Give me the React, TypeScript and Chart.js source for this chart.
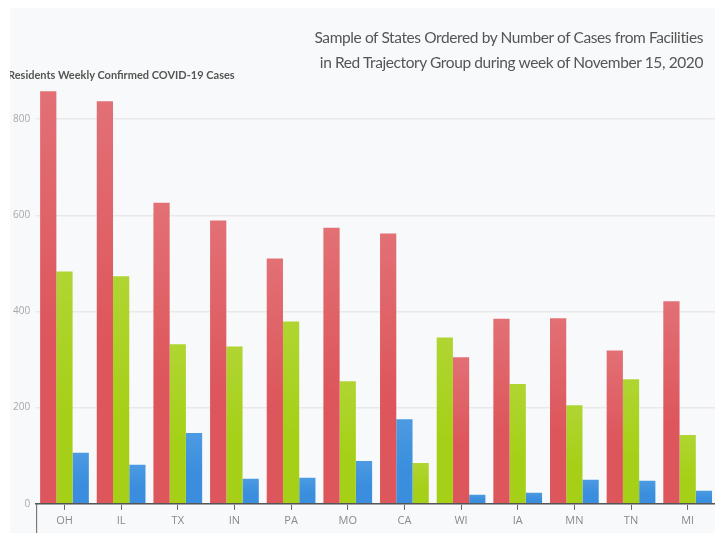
import React, { useEffect, useRef } from "react";
import { Chart, registerables } from "chart.js";

Chart.register(...registerables);

// States on the x axis
const states = ["OH", "IL", "TX", "IN", "PA", "MO", "CA", "WI", "IA", "MN", "TN", "MI"];

// Weekly confirmed cases per state, one array per coloured series
const redValues = [858, 837, 626, 589, 510, 574, 562, 305, 385, 386, 319, 421];
const greenValues = [483, 473, 332, 327, 379, 255, 85, 346, 249, 205, 259, 143];
const blueValues = [106, 81, 147, 52, 54, 89, 176, 19, 23, 50, 48, 27];

const yTicks = [0, 200, 400, 600, 800];
const yMax = 900;

const titleLines = [
  "Sample of States Ordered by Number of Cases from Facilities",
  "in Red Trajectory Group during week of November 15, 2020",
];
const axisTitle = "Residents Weekly Confirmed COVID-19 Cases";

// base (bottom) and light (top) shade of each series
const series = [
  { values: redValues, base: "#dd565b", light: "#e27075" },
  { values: greenValues, base: "#a6d018", light: "#b0d532" },
  { values: blueValues, base: "#3a8edd", light: "#4c9ae2" },
];

// Within every state the bars are ordered from largest to smallest,
// so build one dataset per rank and colour each bar by its series.
function buildDatasets() {
  return [0, 1, 2].map((rank) => {
    const data: number[] = [];
    const shades: { base: string; light: string }[] = [];
    states.forEach((_, i) => {
      const sorted = series
        .map((s) => ({ v: s.values[i], base: s.base, light: s.light }))
        .sort((a, b) => b.v - a.v);
      data.push(sorted[rank].v);
      shades.push({ base: sorted[rank].base, light: sorted[rank].light });
    });
    return {
      label: `rank ${rank + 1}`,
      data,
      backgroundColor: (ctx: any) => {
        const shade = shades[ctx.dataIndex];
        const chart = ctx.chart;
        const yScale = chart.scales && chart.scales.y;
        if (!yScale || ctx.raw === undefined) return shade.base;
        const top = yScale.getPixelForValue(ctx.raw);
        const bottom = yScale.getPixelForValue(0);
        if (!isFinite(top) || !isFinite(bottom) || bottom - top < 1) return shade.base;
        const g = chart.ctx.createLinearGradient(0, top, 0, bottom);
        g.addColorStop(0, shade.light);
        g.addColorStop(0.6, shade.base);
        g.addColorStop(1, shade.base);
        return g;
      },
      borderWidth: 0,
      barPercentage: 1,
      categoryPercentage: 0.86,
    };
  });
}

// Short axis line that continues below the x axis at its left end
const leftEdgeLine = {
  id: "leftEdgeLine",
  afterDraw(chart: any) {
    const { ctx, chartArea } = chart;
    ctx.save();
    ctx.strokeStyle = "#666";
    ctx.lineWidth = 1;
    ctx.beginPath();
    ctx.moveTo(chartArea.left + 0.5, chartArea.bottom);
    ctx.lineTo(chartArea.left + 0.5, chart.height);
    ctx.stroke();
    ctx.restore();
  },
};

export default function App() {
  const canvasRef = useRef<HTMLCanvasElement | null>(null);

  useEffect(() => {
    document.body.style.margin = "0";
    const canvas = canvasRef.current;
    if (!canvas) return;
    const chart = new Chart(canvas, {
      type: "bar",
      data: { labels: states, datasets: buildDatasets() as any },
      plugins: [leftEdgeLine],
      options: {
        animation: false,
        responsive: false,
        maintainAspectRatio: false,
        layout: { padding: { top: 63, left: 5, right: 0, bottom: 2 } },
        plugins: {
          legend: { display: false },
          tooltip: { enabled: false },
          title: { display: false },
        },
        scales: {
          x: {
            grid: {
              display: true,
              drawOnChartArea: false,
              offset: false,
              tickLength: 6,
              color: "#666",
            },
            border: { display: true, color: "#555", width: 1.5 },
            ticks: {
              color: "#8a8a8a",
              font: { family: "Open Sans", size: 11 },
              padding: 4,
            },
          },
          y: {
            min: 0,
            max: yMax,
            afterBuildTicks: (scale: any) => {
              scale.ticks = yTicks.map((v) => ({ value: v }));
            },
            grid: { color: "#e9e9ea", lineWidth: 1.5, drawTicks: false },
            border: { display: false },
            ticks: {
              color: "#a8a8a8",
              font: { family: "Open Sans", size: 10 },
              padding: 6,
            },
          },
        },
      },
    });
    return () => chart.destroy();
  }, []);

  return (
    <div style={{ position: "relative", width: 715, height: 533, background: "#ffffff", overflow: "hidden" }}>
      <div
        style={{
          position: "absolute",
          left: 10,
          top: 8,
          width: 705,
          height: 525,
          background: "#f8f9fa",
          overflow: "hidden",
        }}
      >
        <canvas
          ref={canvasRef}
          width={714}
          height={525}
          style={{ position: "absolute", left: -8, top: 0, width: 714, height: 525 }}
        />
        <div
          style={{
            position: "absolute",
            right: 12,
            top: 17,
            textAlign: "right",
            fontFamily: "Lato, sans-serif",
            fontSize: 15.5,
            letterSpacing: "-0.4px",
            lineHeight: "25px",
            color: "#555",
          }}
        >
          {titleLines.map((t) => (
            <div key={t}>{t}</div>
          ))}
        </div>
        <div
          style={{
            position: "absolute",
            left: -2,
            top: 60,
            fontFamily: "Lato, sans-serif",
            fontWeight: 700,
            fontSize: 11,
            color: "#555",
            whiteSpace: "nowrap",
          }}
        >
          {axisTitle}
        </div>
      </div>
    </div>
  );
}
